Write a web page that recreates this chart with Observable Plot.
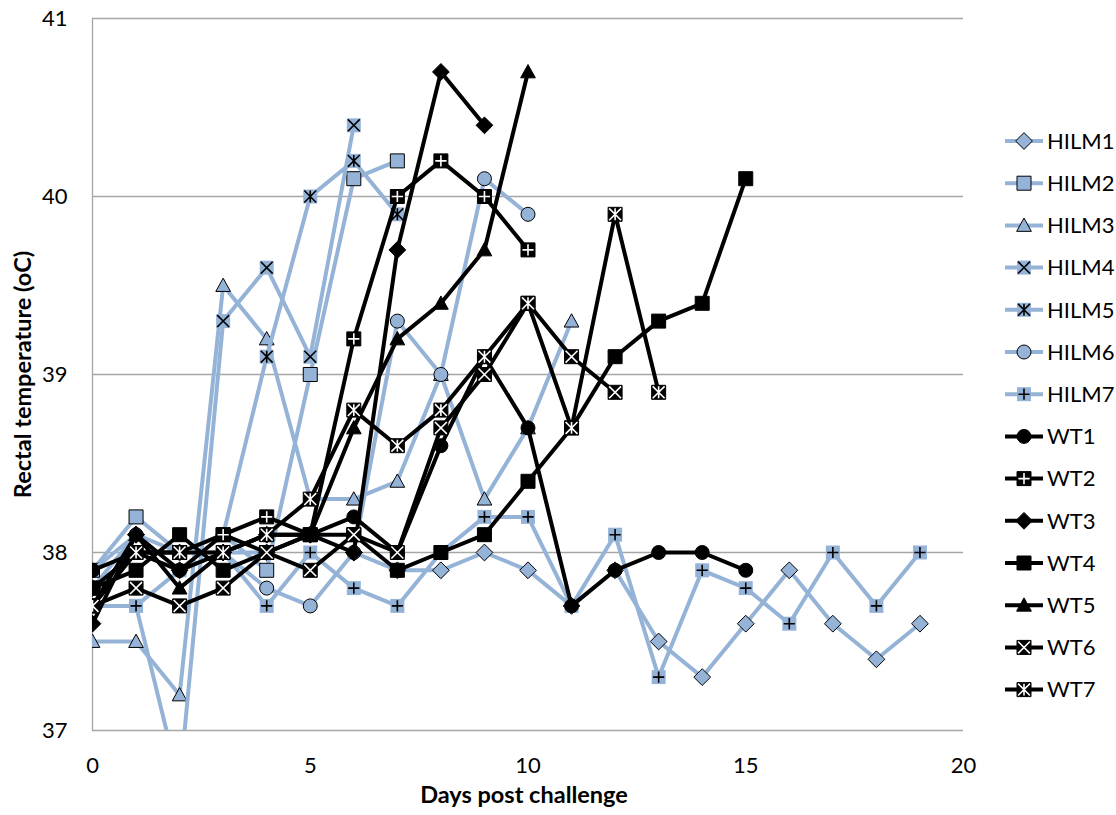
<!DOCTYPE html>
<html><head><meta charset="utf-8">
<script src="https://cdn.jsdelivr.net/npm/d3@7"></script>
<script src="https://cdn.jsdelivr.net/npm/@observablehq/plot@0.6"></script>
<style>
body{margin:0;background:#fff;}
#wrap{position:relative;width:1116px;height:815px;font-family:Lato,sans-serif;}
#legend{position:absolute;left:0;top:0;pointer-events:none;}
</style></head><body><div id="wrap"></div>
<script>
// ---- data (one value per day, starting at day 0) ----
const seriesNames = ["HILM1","HILM2","HILM3","HILM4","HILM5","HILM6","HILM7","WT1","WT2","WT3","WT4","WT5","WT6","WT7"];
const HILM1 = [37.8,38.1,38.0,38.0,38.0,38.1,38.0,37.9,37.9,38.0,37.9,37.7,37.9,37.5,37.3,37.6,37.9,37.6,37.4,37.6];
const HILM2 = [37.9,38.2,38.0,38.1,37.9,39.0,40.1,40.2];
const HILM3 = [37.5,37.5,37.2,39.5,39.2,38.3,38.3,38.4,39.0,38.3,38.7,39.3];
const HILM4 = [37.7,37.7,36.7,39.3,39.6,39.1,40.4];
const HILM5 = [37.8,38.0,38.0,38.1,39.1,40.0,40.2,39.9];
const HILM6 = [37.9,38.1,37.9,38.0,37.8,37.7,38.0,39.3,39.0,40.1,39.9];
const HILM7 = [37.7,37.7,37.9,38.0,37.7,38.0,37.8,37.7,38.0,38.2,38.2,37.7,38.1,37.3,37.9,37.8,37.6,38.0,37.7,38.0];
const WT1 = [37.9,38.0,37.9,38.1,38.0,38.1,38.2,38.0,38.6,39.1,38.7,37.7,37.9,38.0,38.0,37.9];
const WT2 = [37.8,38.0,38.0,38.1,38.2,38.1,39.2,40.0,40.2,40.0,39.7];
const WT3 = [37.6,38.1,37.9,38.0,38.1,38.1,38.0,39.7,40.7,40.4];
const WT4 = [37.8,37.9,38.1,37.9,38.0,38.1,38.1,37.9,38.0,38.1,38.4,38.7,39.1,39.3,39.4,40.1];
const WT5 = [37.7,38.1,37.8,38.0,38.1,38.1,38.7,39.2,39.4,39.7,40.7];
const WT6 = [37.7,37.8,37.7,37.8,38.0,37.9,38.1,38.0,38.7,39.0,39.4,39.1,38.9];
const WT7 = [37.7,38.0,38.0,38.0,38.1,38.3,38.8,38.6,38.8,39.1,39.4,38.7,39.9,38.9];
const seriesValues = [HILM1,HILM2,HILM3,HILM4,HILM5,HILM6,HILM7,WT1,WT2,WT3,WT4,WT5,WT6,WT7];
const xTicks = [0,5,10,15,20];
const yTicks = [37,38,39,40,41];
const gridTicks = [38,39,40,41];

// ---- styling ----
const blue = "#95b3d7";
const rr = s => Math.sqrt(s/Math.PI);
const symSquare = {draw(c,s){const r=rr(s); c.moveTo(-r,-r); c.lineTo(r,-r); c.lineTo(r,r); c.lineTo(-r,r); c.closePath();}};
const symDiamond = {draw(c,s){const r=rr(s)*1.2; c.moveTo(0,-r); c.lineTo(r,0); c.lineTo(0,r); c.lineTo(-r,0); c.closePath();}};
const symTriangle = {draw(c,s){const r=rr(s); c.moveTo(0,-r*1.05); c.lineTo(r*1.05,r*0.85); c.lineTo(-r*1.05,r*0.85); c.closePath();}};
const symCircle = {draw(c,s){const r=rr(s); c.moveTo(r,0); c.arc(0,0,r,0,2*Math.PI); c.closePath();}};
const symTimes = {draw(c,s){const r=rr(s)*0.85; c.moveTo(-r,-r); c.lineTo(r,r); c.moveTo(r,-r); c.lineTo(-r,r);}};
const symPlus = {draw(c,s){const r=rr(s)*0.8; c.moveTo(0,-r); c.lineTo(0,r); c.moveTo(-r,0); c.lineTo(r,0);}};
const symAsterisk = {draw(c,s){const r=rr(s)*0.85; c.moveTo(-r,-r); c.lineTo(r,r); c.moveTo(r,-r); c.lineTo(-r,r); c.moveTo(0,-r); c.lineTo(0,r);}};

const styles = {
  HILM1:{color:blue, base:{symbol:symDiamond, fill:blue, stroke:"#000", r:7}},
  HILM2:{color:blue, base:{symbol:symSquare, fill:blue, stroke:"#000", r:7}},
  HILM3:{color:blue, base:{symbol:symTriangle, fill:blue, stroke:"#000", r:7}},
  HILM4:{color:blue, base:{symbol:symSquare, fill:blue, stroke:"none", r:7}, over:{symbol:symTimes, stroke:"#000"}},
  HILM5:{color:blue, base:{symbol:symSquare, fill:blue, stroke:"none", r:7}, over:{symbol:symAsterisk, stroke:"#000"}},
  HILM6:{color:blue, base:{symbol:symCircle, fill:blue, stroke:"#000", r:7}},
  HILM7:{color:blue, base:{symbol:symSquare, fill:blue, stroke:"none", r:7}, over:{symbol:symPlus, stroke:"#000"}},
  WT1:{color:"#000", base:{symbol:symCircle, fill:"#000", stroke:"#000", r:7}},
  WT2:{color:"#000", base:{symbol:symSquare, fill:"#000", stroke:"#000", r:7}, over:{symbol:symPlus, stroke:"#fff"}},
  WT3:{color:"#000", base:{symbol:symDiamond, fill:"#000", stroke:"#000", r:7}},
  WT4:{color:"#000", base:{symbol:symSquare, fill:"#000", stroke:"#000", r:7}},
  WT5:{color:"#000", base:{symbol:symTriangle, fill:"#000", stroke:"#000", r:7}},
  WT6:{color:"#000", base:{symbol:symSquare, fill:"#000", stroke:"#000", r:7}, over:{symbol:symTimes, stroke:"#fff"}},
  WT7:{color:"#000", base:{symbol:symSquare, fill:"#000", stroke:"#000", r:7}, over:{symbol:symAsterisk, stroke:"#fff"}}
};

const rows = [];
seriesNames.forEach((name,i) => seriesValues[i].forEach((v,d) => rows.push({series:name, day:d, temp:v})));

const marks = [
  Plot.ruleY(gridTicks, {stroke:"#a6a6a6", strokeWidth:1.3}),
  Plot.ruleY([37], {stroke:"#a6a6a6", strokeWidth:1.3}),
  Plot.ruleX([0], {stroke:"#a6a6a6", strokeWidth:1.3})
];
seriesNames.forEach(name => {
  const st = styles[name];
  const data = rows.filter(d => d.series === name);
  marks.push(Plot.line(data, {x:"day", y:"temp", stroke:st.color, strokeWidth:4, strokeLinejoin:"round", clip:true}));
  marks.push(Plot.dot(data, {x:"day", y:"temp", symbol:st.base.symbol, r:st.base.r, fill:st.base.fill, stroke:st.base.stroke, strokeWidth:1, clip:true}));
  if (st.over) marks.push(Plot.dot(data, {x:"day", y:"temp", symbol:st.over.symbol, r:7, fill:"none", stroke:st.over.stroke, strokeWidth:1.6, clip:true}));
});
marks.push(Plot.axisX(xTicks, {tickSize:0, tickPadding:27, tickFormat:d3.format("d"), label:null}));
marks.push(Plot.axisY(yTicks, {tickSize:0, tickPadding:25, tickFormat:d3.format("d"), label:null}));
marks.push(Plot.text(["Days post challenge"], {frameAnchor:"bottom", dy:72, dx:-4, fontWeight:"bold", fontSize:23.5, fill:"#000"}));
marks.push(Plot.text(["Rectal temperature (oC)"], {frameAnchor:"left", textAnchor:"middle", rotate:-90, dx:-69, fontWeight:"bold", fontSize:23.5, fill:"#000"}));

const chart = Plot.plot({
  width:1116, height:815,
  marginLeft:92, marginRight:153, marginTop:18, marginBottom:85,
  x:{domain:[0,20]},
  y:{domain:[37,41]},
  style:{fontFamily:"Lato, sans-serif", fontSize:"22px", color:"#000", background:"#fff", overflow:"visible"},
  marks
});
const wrap = document.getElementById("wrap");
wrap.appendChild(chart);

// ---- legend (right side) ----
const lg = d3.select(wrap).append("svg").attr("id","legend").attr("width",1116).attr("height",815);
seriesNames.forEach((name,i) => {
  const st = styles[name];
  const y = 141 + i*42.2;
  const g = lg.append("g").attr("transform",`translate(0,${y})`);
  g.append("line").attr("x1",1005).attr("x2",1043).attr("y1",0).attr("y2",0).attr("stroke",st.color).attr("stroke-width",4);
  g.append("path").attr("transform","translate(1024,0)")
    .attr("d", d3.symbol().type(st.base.symbol).size(Math.PI*st.base.r*st.base.r)())
    .attr("fill",st.base.fill).attr("stroke",st.base.stroke).attr("stroke-width",1);
  if (st.over) g.append("path").attr("transform","translate(1024,0)")
    .attr("d", d3.symbol().type(st.over.symbol).size(Math.PI*49)())
    .attr("fill","none").attr("stroke",st.over.stroke).attr("stroke-width",1.6);
  g.append("text").attr("x",1047).attr("y",0).attr("dy","0.35em").attr("font-size",22)
    .attr("font-family","Lato, sans-serif").attr("fill","#000").text(name);
});
</script></body></html>
